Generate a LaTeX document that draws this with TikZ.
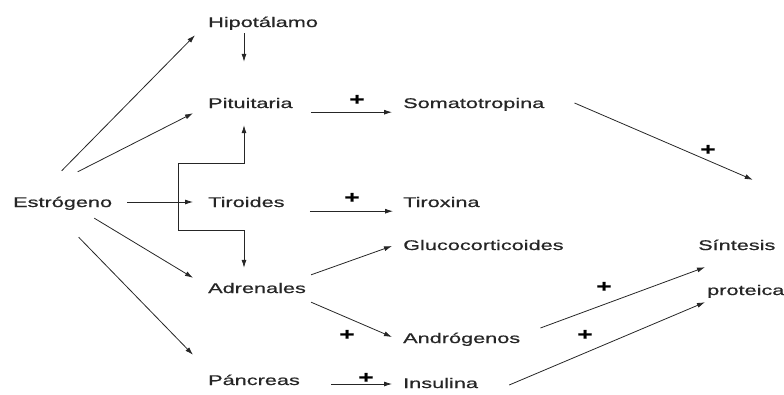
\documentclass[tikz,border=0pt]{standalone}
\usepackage{fontspec}
\setmainfont{Liberation Sans}[FakeStretch=1.55, FakeBold=0.6]
\usetikzlibrary{arrows.meta, calc, positioning}
\tikzset{
    arrow/.style={draw=black!85, line width=0.8pt, -{Latex[length=8pt,width=5pt]}}, % plain arrow
    organ/.style={anchor=west, inner sep=0pt, text height=10pt, text depth=0pt, text=black!85,
        font=\fontsize{14}{16}\selectfont}, % every label of the scheme
    plus/.style={inner sep=0pt, text=black, font=\fontsize{17}{19}\selectfont\bfseries}, % the + signs
}

\begin{document}
\begin{tikzpicture}[x=1pt, y=-1pt]
    \useasboundingbox (0,0) rectangle (784,394);

    % glands
    \node[organ] (est) at (13,202) {Estrógeno};
    \node[organ] (hip) at (208,22) {Hipotálamo};
    \node[organ] (pit) at (208,103) {Pituitaria};
    \node[organ] (tir) at (208,202) {Tiroides};
    \node[organ] (adr) at (208,288) {Adrenales};
    \node[organ] (pan) at (208,380) {Páncreas};

    % hormones
    \node[organ] (som) at (403,103) {Somatotropina};
    \node[organ] (tix) at (403,202) {Tiroxina};
    \node[organ] (glu) at (403,245) {Glucocorticoides};
    \node[organ] (and) at (403,338) {Andrógenos};
    \node[organ] (ins) at (403,383) {Insulina};

    % target
    \node[organ] (sin) at (698,245) {Síntesis};
    \node[organ] (pro) at (707,290) {proteica};

    % signs
    \node[plus] (p1) at (357,100) {+};
    \node[plus] (p2) at (352,198) {+};
    \node[plus] (p3) at (347,335) {+};
    \node[plus] (p4) at (366,378) {+};
    \node[plus] (p5) at (708,150) {+};
    \node[plus] (p6) at (604,287) {+};
    \node[plus] (p7) at (585,335) {+};

    % from Estrógeno
    \draw[arrow] ($(est.north)+(-1,-26)$) -- ($(hip.south west)+(-13,8)$);
    \draw[arrow] ($(est.north)+(15,-25)$) -- ($(pit.south west)+(-15,5)$);
    \draw[arrow] ($(est.east)+(15,0)$) -- ($(tir.west)+(-15,0)$);
    \draw[arrow] ($(est.south east)+(-18,11)$) -- ($(adr.north west)+(-15,-5)$);
    \draw[arrow] ($(est.south)+(16,30)$) -- ($(pan.north west)+(-15,-20)$);

    % axis
    \draw[arrow] ($(hip.south west)+(36,6)$) -- ($(pit.north west)+(36,-36)$);
    \draw[arrow, {Latex[length=8pt,width=5pt]}-{Latex[length=8pt,width=5pt]}]
        ($(pit.south west)+(36,17)$) -- ++(0,38) -- ++(-66,0) |- ++(66,67)
        -- ($(adr.north west)+(36,-15)$);

    % glands to hormones
    \draw[arrow] ($(pit.south east)+(18,4)$) -- ($(som.south west)+(-11,4)$);
    \draw[arrow] ($(tir.south east)+(25,4)$) -- ($(tix.south west)+(-10,4)$);
    \draw[arrow] ($(adr.north east)+(5,-8)$) -- ($(glu.west)+(-11,1)$);
    \draw[arrow] ($(adr.south east)+(5,9)$) -- ($(and.west)+(-11,-1)$);
    \draw[arrow] ($(pan.east)+(31,4)$) -- ($(ins.west)+(-11,1)$);

    % hormones to target
    \draw[arrow] ($(som.east)+(30,0)$) -- ($(sin.north)+(16,-60)$);
    \draw[arrow] ($(and.east)+(20,-10)$) -- ($(sin.south west)+(7,17)$);
    \draw[arrow] ($(ins.east)+(31,2)$) -- ($(pro.south west)+(-2,7)$);
\end{tikzpicture}
\end{document}
